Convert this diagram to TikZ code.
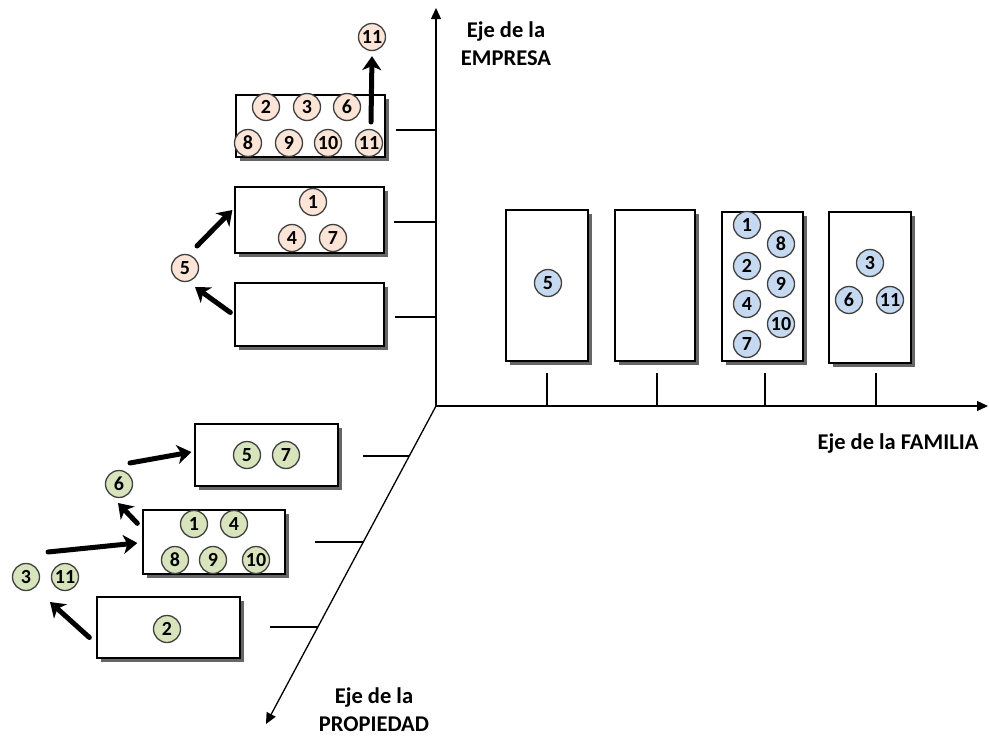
\documentclass[tikz,border=0pt]{standalone}
\usepackage{fontspec}
\setmainfont{Carlito}
\usetikzlibrary{arrows.meta,shadows,calc}
\definecolor{peach}{RGB}{252,228,214}
\definecolor{bluec}{RGB}{197,217,241}
\definecolor{greenc}{RGB}{216,228,188}
\begin{document}
\begin{tikzpicture}[x=1pt,y=-1pt,
 box/.style={draw=black,line width=1.3pt,fill=white,inner sep=0pt,
   drop shadow={shadow xshift=4pt,shadow yshift=-4pt,fill=black!60,opacity=1}},
 ball/.style={circle,draw=black!75,line width=1.3pt,minimum size=27pt,inner sep=0pt,
   font=\fontsize{20}{20}\selectfont\bfseries},
 pe/.style={ball,fill=peach}, bl/.style={ball,fill=bluec}, gr/.style={ball,fill=greenc},
 axis/.style={line width=1.3pt,-{Triangle[length=11pt,width=10pt]}},
 tickl/.style={line width=1.2pt},
 mv/.style={line width=5pt,line cap=round,-{Stealth[length=14pt,width=19pt,inset=4pt]}},
 lab/.style={font=\fontsize{22.5}{28}\selectfont\bfseries,align=center,inner sep=0pt}
]
\useasboundingbox (0,0) rectangle (989,736);

% axes
\coordinate (O) at (436,406);
\coordinate (Ytop) at (436,8);
\coordinate (Xend) at (988,406);
\coordinate (Zend) at (266,724);
\draw[axis] (O) -- (Ytop);
\draw[axis] (O) -- (Xend);
\draw[axis] (O) -- (Zend);

% labels
\node[lab] (lE) at (506,44) {Eje de la\\EMPRESA};
\node[lab] (lF) at (898,444) {Eje de la FAMILIA};
\node[lab] (lP) at (374,710) {Eje de la\\PROPIEDAD};

% ---------- EMPRESA boxes ----------
\node[box,minimum width=149pt,minimum height=62pt] (e3) at (310.5,126) {};
\node[box,minimum width=149pt,minimum height=66pt] (e2) at (309.5,220) {};
\node[box,minimum width=149pt,minimum height=63pt] (e1) at (309.5,314.5) {};
\coordinate (te3a) at (396,130); \coordinate (te3b) at (436,130);
\coordinate (te2a) at (394,222); \coordinate (te2b) at (436,222);
\coordinate (te1a) at (395,317); \coordinate (te1b) at (436,317);
\draw[tickl] (te3a) -- (te3b);
\draw[tickl] (te2a) -- (te2b);
\draw[tickl] (te1a) -- (te1b);

\node[pe] (e3c2) at (266,107) {2};
\node[pe] (e3c3) at (307,107) {3};
\node[pe] (e3c6) at (347,107) {6};
\node[pe] (e3c8) at (248,143) {8};
\node[pe] (e3c9) at (289,143) {9};
\node[pe] (e3c10) at (328,143) {10};
\node[pe] (e3c11) at (369,143) {11};
\node[pe] (et11) at (372,37) {11};

\node[pe] (e2c1) at (313,202) {1};
\node[pe] (e2c4) at (292,238) {4};
\node[pe] (e2c7) at (333,238) {7};

\node[pe] (e5) at (185,268) {5};

\draw[mv] ($(e3c11.center)+(2,-21)$) -- ($(et11.south)+(0,5)$);
\draw[mv] ($(e1.west)+(-4,-2)$) -- ($(e5.center)+(10,19)$);
\draw[mv] ($(e5.center)+(12,-22)$) -- ($(e2.west)+(-2,-10)$);

% ---------- FAMILIA boxes ----------
\node[box,minimum width=82pt,minimum height=151pt] (f1) at (547,285.5) {};
\node[box,minimum width=80pt,minimum height=151pt] (f2) at (655,285.5) {};
\node[box,minimum width=81pt,minimum height=149pt] (f3) at (762.5,286.5) {};
\node[box,minimum width=82pt,minimum height=151pt] (f4) at (870,287.5) {};
\foreach \i/\x in {1/547,2/657,3/765,4/876}{
  \coordinate (tf\i a) at (\x,373);
  \coordinate (tf\i b) at (\x,406);
  \draw[tickl] (tf\i a) -- (tf\i b);
}
\node[bl] (f1c5) at (548,283) {5};
\node[bl] (f3c1) at (747,225) {1};
\node[bl] (f3c8) at (781,244) {8};
\node[bl] (f3c2) at (747,266) {2};
\node[bl] (f3c9) at (781,284) {9};
\node[bl] (f3c4) at (747,304) {4};
\node[bl] (f3c10) at (781,324) {10};
\node[bl] (f3c7) at (747,344) {7};
\node[bl] (f4c3) at (870,263) {3};
\node[bl] (f4c6) at (849,300) {6};
\node[bl] (f4c11) at (890,300) {11};

% ---------- PROPIEDAD boxes ----------
\node[box,minimum width=143pt,minimum height=62pt] (p3) at (266.5,455) {};
\node[box,minimum width=142pt,minimum height=64pt] (p2) at (214,542) {};
\node[box,minimum width=143pt,minimum height=61pt] (p1) at (168.5,627.5) {};
\coordinate (tp3a) at (363,456); \coordinate (tp3b) at (409,456);
\coordinate (tp2a) at (315,542); \coordinate (tp2b) at (363.5,542);
\coordinate (tp1a) at (270,627); \coordinate (tp1b) at (318,627);
\draw[tickl] (tp3a) -- (tp3b);
\draw[tickl] (tp2a) -- (tp2b);
\draw[tickl] (tp1a) -- (tp1b);

\node[gr] (p3c5) at (247,455) {5};
\node[gr] (p3c7) at (286,455) {7};
\node[gr] (p2c1) at (194,524) {1};
\node[gr] (p2c4) at (234,524) {4};
\node[gr] (p2c8) at (175,560) {8};
\node[gr] (p2c9) at (213,560) {9};
\node[gr] (p2c10) at (256,560) {10};
\node[gr] (p1c2) at (167,629) {2};
\node[gr] (g6) at (119,484) {6};
\node[gr] (g3) at (26,577) {3};
\node[gr] (g11) at (65,577) {11};

\draw[mv] ($(p1.west)+(-7,10)$) -- ($(g11.center)+(-15,25)$);
\draw[mv] ($(g3.center)+(22,-25)$) -- ($(p2.west)+(-5,1)$);
\draw[mv] ($(p2.north west)+(-5,14)$) -- ($(g6.center)+(-1,19)$);
\draw[mv] ($(g6.center)+(11,-21)$) -- ($(p3.west)+(-3,-3)$);
\end{tikzpicture}
\end{document}
